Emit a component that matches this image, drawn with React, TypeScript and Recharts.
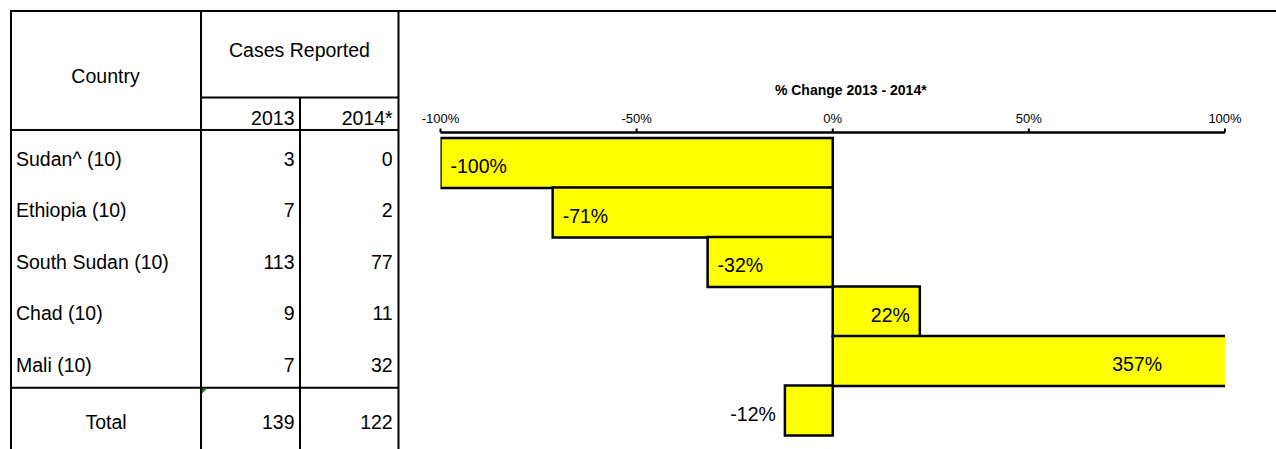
import React from 'react';
import { BarChart, Bar, XAxis, YAxis, LabelList, Label } from 'recharts';

// table + chart values, read from the sheet
const COUNTRIES = ['Sudan^ (10)', 'Ethiopia (10)', 'South Sudan (10)', 'Chad (10)', 'Mali (10)', 'Total'];
const CASES_2013 = [3, 7, 113, 9, 7, 139];
const CASES_2014 = [0, 2, 77, 11, 32, 122];
const PCT_CHANGE = [-100, -71.4, -31.9, 22.2, 357.1, -12.2];
const X_TICKS = [-100, -50, 0, 50, 100];
const YEAR_HEADERS = ['2013', '2014*'];
const COUNTRY_HEADER = 'Country';
const CASES_HEADER = 'Cases Reported';
const CHART_TITLE = '% Change 2013 - 2014*';

const chartData = COUNTRIES.map((name, i) => ({ name, pct: PCT_CHANGE[i] }));

const FONT = "'Liberation Sans', Arial, sans-serif";
const CHART_LEFT = 400;
const CHART_W = 876;
const CHART_H = 449;
const MARGIN = { top: 102.5, right: 51, bottom: 14, left: 40.5 };
const PLOT_RIGHT = CHART_W - MARGIN.right;

function BarValueLabel(props: any) {
  const vb = props.viewBox || props;
  const x0 = Number(vb.x ?? props.x);
  const w = Number(vb.width ?? props.width);
  const y0 = Number(vb.y ?? props.y);
  const h = Number(vb.height ?? props.height);
  const value = Number(props.value);
  const left = Math.min(x0, x0 + w);
  const right = Math.max(x0, x0 + w);
  const baseY = y0 + h / 2 + 10;
  let tx: number;
  let anchor: 'start' | 'end';
  if (value < 0) {
    if (right - left < 60) {
      // small bar: label sits outside
      tx = left - 9;
      anchor = 'end';
    } else {
      tx = left + 10;
      anchor = 'start';
    }
  } else if (right > PLOT_RIGHT) {
    tx = PLOT_RIGHT - 63;
    anchor = 'end';
  } else {
    tx = right - 10;
    anchor = 'end';
  }
  return (
    <text x={tx} y={baseY} textAnchor={anchor} fontSize={19.5} fill="#000" fontFamily={FONT}>
      {`${Math.round(value)}%`}
    </text>
  );
}

function TitleLabel(props: any) {
  const vb = props.viewBox || {};
  return (
    <text
      x={vb.x + vb.width / 2 + 18}
      y={vb.y - 7.5}
      textAnchor="middle"
      fontSize={14}
      fontWeight="bold"
      fill="#000"
      fontFamily={FONT}
    >
      {CHART_TITLE}
    </text>
  );
}

function CasesTable() {
  const rowTop = 130;
  const rowH = 51.5;
  const line = { stroke: '#000', strokeWidth: 2 };
  return (
    <svg width={1276} height={449} style={{ position: 'absolute', left: 0, top: 0 }} fontFamily={FONT}>
      {/* grid lines */}
      <line x1={10} y1={11} x2={1276} y2={11} {...line} />
      <line x1={11} y1={10} x2={11} y2={449} {...line} />
      <line x1={201} y1={10} x2={201} y2={449} {...line} />
      <line x1={300} y1={97.5} x2={300} y2={449} {...line} />
      <line x1={398.5} y1={10} x2={398.5} y2={449} {...line} />
      <line x1={200} y1={97.5} x2={399} y2={97.5} {...line} />
      <line x1={10} y1={130} x2={399} y2={130} {...line} />
      <line x1={10} y1={387.7} x2={399} y2={387.7} {...line} />
      <polygon points="202,389 206.5,389 202,393.5" fill="#008000" />

      <text x={105.5} y={82.7} textAnchor="middle" fontSize={19.5} fill="#000">{COUNTRY_HEADER}</text>
      <text x={299.5} y={56.5} textAnchor="middle" fontSize={19.5} fill="#000">{CASES_HEADER}</text>
      <text x={294.5} y={125} textAnchor="end" fontSize={19.5} fill="#000">{YEAR_HEADERS[0]}</text>
      <text x={392.7} y={125} textAnchor="end" fontSize={19.5} fill="#000">{YEAR_HEADERS[1]}</text>

      {COUNTRIES.map((c, i) => {
        const isTotal = i === COUNTRIES.length - 1;
        const baseY = isTotal ? 429 : rowTop + rowH * i + 35.7;
        return (
          <g key={c}>
            <text
              x={isTotal ? 106 : 16}
              y={baseY}
              textAnchor={isTotal ? 'middle' : 'start'}
              fontSize={19.5}
              fill="#000"
            >
              {c}
            </text>
            <text x={294.5} y={baseY} textAnchor="end" fontSize={19.5} fill="#000">{CASES_2013[i]}</text>
            <text x={392.7} y={baseY} textAnchor="end" fontSize={19.5} fill="#000">{CASES_2014[i]}</text>
          </g>
        );
      })}
    </svg>
  );
}

export default function App() {
  return (
    <div style={{ position: 'absolute', left: 0, top: 0, width: 1276, height: 449, background: '#fff', fontFamily: FONT }}>
      <CasesTable />
      <div style={{ position: 'absolute', left: CHART_LEFT, top: 0 }}>
        <BarChart
          width={CHART_W}
          height={CHART_H}
          data={chartData}
          layout="vertical"
          margin={MARGIN}
          barCategoryGap={0}
          barGap={0}
        >
          <XAxis
            type="number"
            orientation="top"
            domain={[-100, 100]}
            ticks={X_TICKS}
            interval={0}
            allowDataOverflow
            tickFormatter={(v) => `${v}%`}
            axisLine={{ stroke: '#000', strokeWidth: 2.5 }}
            tickLine={{ stroke: '#000', strokeWidth: 2 }}
            tickSize={4}
            tickMargin={6}
            tick={{ fontSize: 13, fill: '#000' }}
            height={30}
          >
            <Label content={TitleLabel} />
          </XAxis>
          <YAxis type="category" dataKey="name" hide padding={{ top: 5.5, bottom: 0 }} />
          <Bar dataKey="pct" fill="#FFFF00" stroke="#000" strokeWidth={2.5} isAnimationActive={false}>
            <LabelList dataKey="pct" content={BarValueLabel} />
          </Bar>
        </BarChart>
      </div>
    </div>
  );
}
